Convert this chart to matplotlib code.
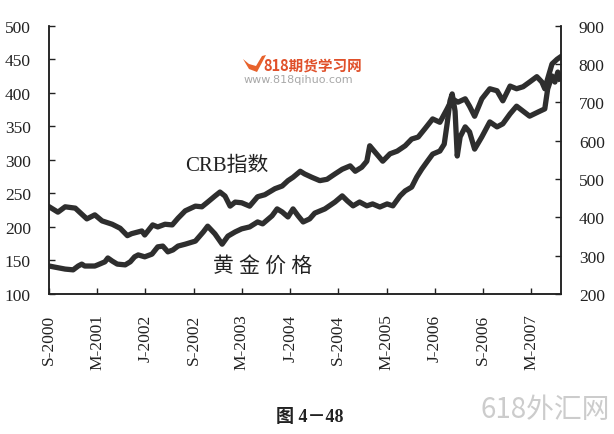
import matplotlib
matplotlib.use("Agg")
import matplotlib.pyplot as plt
from matplotlib.patches import Polygon

plt.rcParams["font.family"] = ["Liberation Serif", "Noto Sans CJK SC"]

# CRB index (left axis), decimal years
crb_year = [2000.67, 2000.79, 2000.89, 2001.03, 2001.12, 2001.19, 2001.30, 2001.40, 2001.54, 2001.65,
            2001.75, 2001.81, 2001.95, 2001.99, 2002.10, 2002.17, 2002.27, 2002.37, 2002.45, 2002.55,
            2002.69, 2002.78, 2002.86, 2002.96, 2003.03, 2003.10, 2003.17, 2003.24, 2003.33, 2003.44,
            2003.55, 2003.65, 2003.79, 2003.89, 2003.97, 2004.04, 2004.14, 2004.20, 2004.30, 2004.41,
            2004.51, 2004.62, 2004.72, 2004.83, 2004.90, 2004.99, 2005.06, 2005.10, 2005.17, 2005.28,
            2005.38, 2005.48, 2005.59, 2005.68, 2005.77, 2005.86, 2005.97, 2006.07, 2006.17, 2006.24,
            2006.32, 2006.42, 2006.48, 2006.55, 2006.65, 2006.76, 2006.86, 2006.94, 2007.04, 2007.13,
            2007.22, 2007.31, 2007.41, 2007.48, 2007.52, 2007.56, 2007.62, 2007.69, 2007.73]
crb_val = [230, 222, 230, 228, 219, 212, 218, 209, 204, 198,
           187, 190, 194, 188, 203, 200, 204, 203, 213, 224,
           231, 230, 237, 246, 252, 246, 231, 237, 236, 231,
           245, 248, 257, 261, 269, 274, 283, 279, 274, 269,
           271, 279, 286, 291, 283, 289, 298, 321, 312, 298,
           309, 313, 321, 331, 334, 346, 361, 356, 376, 391,
           386, 391, 380, 365, 391, 406, 403, 388, 410, 406,
           409, 416, 424, 416, 406, 421, 443, 450, 453]

# gold price (right axis)
gold_year = [2000.67, 2000.75, 2000.89, 2001.00, 2001.07, 2001.12, 2001.16, 2001.30, 2001.34, 2001.44,
             2001.48, 2001.54, 2001.61, 2001.72, 2001.79, 2001.85, 2001.90, 2001.99, 2002.09, 2002.17,
             2002.24, 2002.31, 2002.38, 2002.45, 2002.55, 2002.69, 2002.80, 2002.86, 2002.96, 2003.06,
             2003.14, 2003.24, 2003.33, 2003.44, 2003.55, 2003.62, 2003.75, 2003.82, 2003.89, 2003.97,
             2004.04, 2004.11, 2004.18, 2004.27, 2004.34, 2004.48, 2004.62, 2004.72, 2004.79, 2004.87,
             2004.96, 2005.06, 2005.14, 2005.24, 2005.34, 2005.42, 2005.52, 2005.59, 2005.68, 2005.75,
             2005.82, 2005.90, 2005.97, 2006.07, 2006.13, 2006.17, 2006.21, 2006.24, 2006.28, 2006.31,
             2006.35, 2006.42, 2006.48, 2006.55, 2006.65, 2006.76, 2006.86, 2006.94, 2007.04, 2007.13,
             2007.22, 2007.31, 2007.43, 2007.52, 2007.56, 2007.62, 2007.66, 2007.70, 2007.73]
gold_val = [273, 270, 265, 263, 273, 278, 273, 273, 276, 284,
            294, 286, 278, 276, 284, 297, 302, 297, 304, 323,
            325, 310, 315, 325, 330, 338, 362, 377, 357, 330,
            351, 362, 370, 375, 388, 383, 404, 422, 414, 401,
            422, 404, 388, 396, 411, 422, 440, 456, 443, 430,
            440, 430, 435, 427, 435, 430, 456, 469, 479, 505,
            526, 547, 565, 573, 591, 644, 704, 722, 677, 560,
            610, 636, 623, 578, 610, 649, 636, 644, 670, 690,
            677, 664, 675, 683, 735, 769, 753, 779, 761]

# x ticks every 8 months
tick_pos = [2000 + 8 / 12, 2001 + 4 / 12, 2002.0, 2002 + 8 / 12, 2003 + 4 / 12, 2004.0,
            2004 + 8 / 12, 2005 + 4 / 12, 2006.0, 2006 + 8 / 12, 2007 + 4 / 12]
tick_lab = ["S-2000", "M-2001", "J-2002", "S-2002", "M-2003", "J-2004",
            "S-2004", "M-2005", "J-2006", "S-2006", "M-2007"]

W, H = 614, 435
fig = plt.figure(figsize=(W / 100, H / 100), dpi=100)
ax = fig.add_axes([49 / W, 1 - 295 / H, (560.7 - 49) / W, (295 - 26.7) / H])
ax2 = ax.twinx()

lc = "#2e2e2e"
ax.plot(crb_year, crb_val, color=lc, lw=3.8, solid_joinstyle="round")
ax2.plot(gold_year, gold_val, color=lc, lw=3.8, solid_joinstyle="round")

ax.set_xlim(2000 + 8 / 12, 2007.74)
ax.set_ylim(100, 500)
ax2.set_ylim(200, 900)
ax.set_yticks(range(100, 501, 50))
ax2.set_yticks(range(200, 901, 100))
ax.set_xticks(tick_pos)
ax.set_xticklabels(tick_lab, rotation=90)

for a in (ax, ax2):
    a.spines["top"].set_visible(False)
    for s in a.spines.values():
        s.set_linewidth(1.1)
        s.set_color("#222222")
ax.tick_params(axis="y", direction="in", length=4, width=1, pad=13, labelsize=12.5, colors="#222222")
ax2.tick_params(axis="y", direction="in", length=4, width=1, pad=13, labelsize=12.5, colors="#222222")
ax.tick_params(axis="x", direction="in", length=4, width=1, pad=14, labelsize=12.5, colors="#222222")

# labels for the two lines
fig.text(185 / W, 1 - 166 / H, "CRB指数", fontsize=15, color="#222222", va="center", ha="left")
fig.text(213 / W, 1 - 267 / H, "黄 金 价 格", fontsize=15, color="#222222", va="center", ha="left")

# caption
fig.text(310 / W, 1 - 418 / H, "图 4－48", fontsize=13, weight="bold", color="#222222",
         ha="center", va="center")

# watermarks
fig.text(263 / W, 1 - 66 / H, "818期货学习网", fontsize=10.5, weight="bold", color="#e0502a",
         family=["Noto Sans CJK SC"], ha="left", va="center")
fig.text(244 / W, 1 - 80 / H, "www.818qihuo.com", fontsize=8, color="#a8a8a8",
         family=["DejaVu Sans"], ha="left", va="center")
logo = [(243, 60), (249, 70), (257, 73), (266, 56), (262, 57), (256, 67), (249, 65)]
fig.patches.append(Polygon([(x, H - y) for x, y in logo], closed=True, transform=None,
                           facecolor="#e8622c", edgecolor="none", figure=fig))
fig.text(545 / W, 1 - 410 / H, "618外汇网", fontsize=20, color="#cccccc",
         family=["Noto Sans CJK SC"], ha="center", va="center")

fig.savefig("out.png", dpi=100)
